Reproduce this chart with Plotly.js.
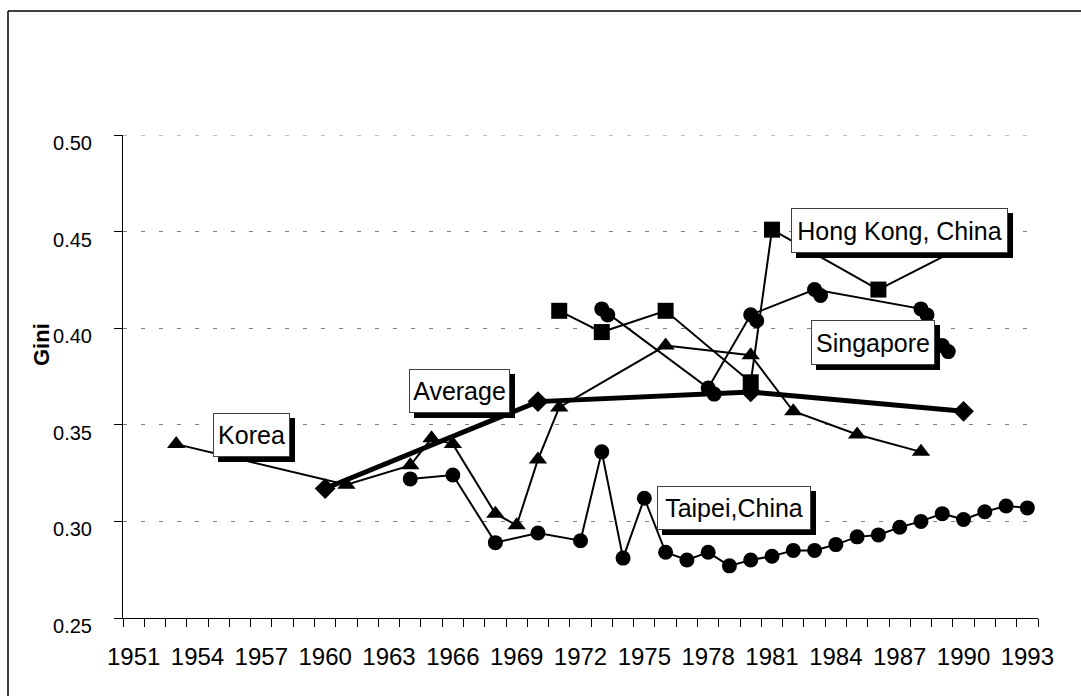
<!DOCTYPE html>
<html><head><meta charset="utf-8">
<script src="https://cdn.plot.ly/plotly-3.0.1.min.js"></script>
<style>html,body{margin:0;padding:0;background:#fff;}#chart{width:1081px;height:696px;}</style>
</head><body><div id="chart"></div>
<script>
// ---- data ----
const koreaYears = [1953,1961,1964,1965,1966,1968,1969,1970,1971,1976,1980,1982,1985,1988];
const koreaGini  = [0.340,0.319,0.329,0.343,0.340,0.304,0.298,0.332,0.359,0.391,0.386,0.357,0.345,0.336];

const taipeiYears = [1964,1966,1968,1970,1972,1973,1974,1975,1976,1977,1978,1979,1980,1981,1982,1983,1984,1985,1986,1987,1988,1989,1990,1991,1992,1993];
const taipeiGini  = [0.322,0.324,0.289,0.294,0.290,0.336,0.281,0.312,0.284,0.280,0.284,0.277,0.280,0.282,0.285,0.285,0.288,0.292,0.293,0.297,0.300,0.304,0.301,0.305,0.308,0.307];

const singaporeYears = [1973,1978,1980,1983,1988,1989];
const singaporeGini  = [0.410,0.369,0.407,0.420,0.410,0.391];

const hongKongYears = [1971,1973,1976,1980,1981,1986,1991];
const hongKongGini  = [0.409,0.398,0.409,0.372,0.451,0.420,0.448];

const averageYears = [1960,1970,1980,1990];
const averageGini  = [0.317,0.362,0.367,0.357];

const seriesLabels = ['Hong Kong, China','Singapore','Average','Korea','Taipei,China'];
const xLabelYears = [1951,1954,1957,1960,1963,1966,1969,1972,1975,1978,1981,1984,1987,1990,1993];
const xLabelText = xLabelYears.map(String);
const yTickVals = [0.25,0.30,0.35,0.40,0.45,0.50];
const yAxisTitle = 'Gini';

// ---- layout geometry ----
const W = 1081, H = 696;
const ML = 123, MR = 37, MT = 135, MB = 72;
const PW = W - ML - MR, PH = H - MT - MB;   // 921 x 489
const SH = 6;                                // marker shadow offset (px)
const px2x = px => (px - ML) / PW;
const px2y = py => (H - MB - py) / PH;
const FONT = 'Liberation Sans, Arial, sans-serif';

const lineStyle = {color:'#000', width:2};
const traces = [
  {x:koreaYears, y:koreaGini, mode:'lines+markers', name:'Korea',
   line:lineStyle, marker:{symbol:'triangle-up', size:16, color:'#000'}},
  {x:taipeiYears, y:taipeiGini, mode:'lines+markers', name:'Taipei,China',
   line:lineStyle, marker:{symbol:'circle', size:15, color:'#000'}},
  {x:singaporeYears, y:singaporeGini, mode:'markers', name:'Singapore shadow',
   xaxis:'x2', yaxis:'y2', marker:{symbol:'circle', size:15, color:'#000'}, hoverinfo:'skip'},
  {x:singaporeYears, y:singaporeGini, mode:'lines+markers', name:'Singapore',
   line:lineStyle, marker:{symbol:'circle', size:15, color:'#000'}},
  {x:hongKongYears, y:hongKongGini, mode:'lines+markers', name:'Hong Kong, China',
   line:lineStyle, marker:{symbol:'square', size:16, color:'#000'}},
  {x:averageYears, y:averageGini, mode:'lines+markers', name:'Average',
   line:{color:'#000', width:5}, marker:{symbol:'diamond', size:16, color:'#000'}}
];

// label boxes (pixel boxes: left, top, width, height)
const boxes = [[791,208,217,45],[811,320,124,45],[409,369,101,44],[213,413,77,44],[657,486,154,44]];
const annotations = [];
const shapes = [];
// top gridline (at the upper end of the value range)
shapes.push({type:'line', xref:'paper', yref:'y', layer:'below',
  x0:0, x1:(PW-SH)/PW, y0:yTickVals[yTickVals.length-1], y1:yTickVals[yTickVals.length-1],
  line:{color:'#808080', width:1, dash:'4px,14px'}});
boxes.forEach((b,i) => {
  const [bx,by,bw,bh] = b;
  shapes.push({type:'rect', xref:'paper', yref:'paper', layer:'above',
    x0:px2x(bx+5), x1:px2x(bx+5+bw), y0:px2y(by+5+bh), y1:px2y(by+5),
    fillcolor:'#000', line:{width:0}});
  annotations.push({text:seriesLabels[i], xref:'paper', yref:'paper',
    x:px2x(bx), y:px2y(by), xanchor:'left', yanchor:'top',
    width:bw-2, height:bh-2, borderpad:0, borderwidth:1, bordercolor:'#404040',
    bgcolor:'#fff', showarrow:false, align:'center', valign:'middle',
    font:{family:FONT, size:25, color:'#000'}});
});
annotations.push({text:'<b>'+yAxisTitle+'</b>', xref:'paper', yref:'paper',
  x:px2x(41), y:px2y(345), xanchor:'center', yanchor:'middle', textangle:-90,
  showarrow:false, font:{family:FONT, size:22, color:'#000'}});

// outer frame (left & top edges visible)
shapes.push({type:'line', xref:'paper', yref:'paper', x0:px2x(8), x1:px2x(8), y0:px2y(11), y1:px2y(720), line:{color:'#000', width:1.5}});
shapes.push({type:'line', xref:'paper', yref:'paper', x0:px2x(8), x1:px2x(1100), y0:px2y(11), y1:px2y(11), line:{color:'#000', width:1.5}});

const layout = {
  width:W, height:H,
  margin:{l:ML, r:MR, t:MT, b:MB, pad:0},
  paper_bgcolor:'#fff', plot_bgcolor:'rgba(0,0,0,0)',
  showlegend:false,
  font:{family:FONT, color:'#000'},
  xaxis:{domain:[0, (PW-SH)/PW], range:[1950.5,1993.5], tickmode:'array',
    tickvals:xLabelYears, ticktext:xLabelText, ticks:'outside', ticklen:8,
    tickcolor:'rgba(0,0,0,0)', showline:true, linecolor:'#000', linewidth:1,
    showgrid:false, zeroline:false, ticklabelstandoff:9,
    tickfont:{family:FONT, size:24, color:'#000'},
    minor:{ticks:'outside', ticklen:8, tickcolor:'#000', tickwidth:1,
      tickmode:'linear', tick0:1950.5, dtick:1, showgrid:false}},
  yaxis:{domain:[SH/PH, 1], range:[0.25,0.50], tickmode:'array', tickvals:yTickVals,
    tickformat:'.2f', ticks:'outside', ticklen:8, tickcolor:'#000',
    showline:true, linecolor:'#000', linewidth:1, zeroline:false,
    showgrid:true, gridcolor:'#808080', gridwidth:1, griddash:'4px,14px',
    ticklabelstandoff:18, ticklabelshift:8,
    tickfont:{family:FONT, size:20, color:'#000'}},
  xaxis2:{domain:[SH/PW, 1], range:[1950.5,1993.5], visible:false, anchor:'y2'},
  yaxis2:{domain:[0, (PH-SH)/PH], range:[0.25,0.50], visible:false, anchor:'x2'},
  annotations:annotations,
  shapes:shapes
};

Plotly.newPlot('chart', traces, layout, {staticPlot:true, displayModeBar:false});
</script>
</body></html>
